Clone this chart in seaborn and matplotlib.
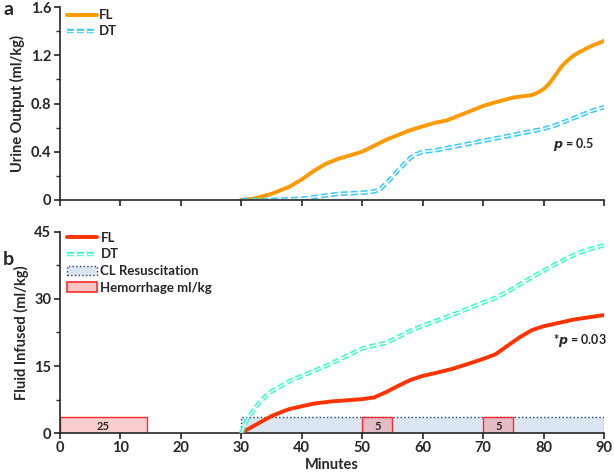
import matplotlib
matplotlib.use("Agg")
import matplotlib.pyplot as plt
import pandas as pd
import seaborn as sns
from matplotlib.lines import Line2D
from matplotlib.patches import Patch

# Data
uo_fl_min = [30, 32, 35, 38, 40, 42, 44, 46, 48, 50, 52, 54, 56, 58, 60, 62, 64, 66, 68, 70, 72, 75, 78, 79, 80, 81, 82, 83, 84, 85, 86, 88, 90]
uo_fl_val = [0.0, 0.01, 0.05, 0.11, 0.17, 0.24, 0.30, 0.34, 0.37, 0.40, 0.45, 0.50, 0.54, 0.58, 0.61, 0.64, 0.66, 0.70, 0.74, 0.78, 0.81, 0.85, 0.87, 0.89, 0.92, 0.97, 1.04, 1.11, 1.16, 1.20, 1.23, 1.28, 1.32]

uo_dt_min = [30, 35, 40, 43, 46, 50, 52, 53, 54, 55, 56, 57, 58, 59, 60, 62, 64, 66, 70, 75, 80, 82, 84, 86, 88, 90]
uo_dt_val = [0.0, 0.0, 0.01, 0.03, 0.05, 0.06, 0.07, 0.09, 0.14, 0.19, 0.25, 0.30, 0.35, 0.38, 0.40, 0.41, 0.43, 0.45, 0.49, 0.54, 0.59, 0.62, 0.66, 0.70, 0.74, 0.77]

fi_fl_min = [30, 31, 33, 35, 37, 38, 40, 42, 45, 48, 50, 52, 54, 56, 58, 60, 62, 65, 68, 70, 72, 74, 76, 78, 80, 82, 85, 88, 90]
fi_fl_val = [0.0, 0.8, 2.3, 3.8, 4.9, 5.4, 6.0, 6.6, 7.1, 7.4, 7.6, 8.0, 9.2, 10.6, 11.9, 12.8, 13.4, 14.4, 15.7, 16.6, 17.6, 19.5, 21.4, 23.0, 23.9, 24.5, 25.4, 26.0, 26.4]

fi_dt_min = [30, 31, 32, 33, 34, 35, 36, 38, 40, 42, 44, 46, 48, 50, 52, 54, 56, 58, 60, 62, 64, 66, 68, 70, 72, 74, 76, 78, 80, 82, 84, 86, 88, 90]
fi_dt_val = [0.0, 3.0, 5.0, 6.8, 8.2, 9.3, 10.1, 11.6, 12.8, 13.9, 15.0, 16.3, 17.6, 18.9, 19.6, 20.2, 21.5, 22.9, 24.0, 25.0, 26.0, 27.0, 28.1, 29.2, 30.2, 31.6, 33.2, 34.8, 36.3, 37.8, 39.2, 40.4, 41.3, 42.0]

hem_start = [0, 50, 70]
hem_width = [14.5, 5, 5]
hem_volume = [25, 5, 5]
cl_start = [30]
cl_width = [60]
box_height = 3.5

sns.set_style("ticks")
plt.rcParams["font.family"] = ["Lato", "DejaVu Sans"]
plt.rcParams["font.weight"] = "bold"
plt.rcParams["lines.scale_dashes"] = False

c_fl_a = "#ff9900"
c_dt_a = "#33ccff"
c_fl_b = "#ff3300"
c_dt_b = "#33ffcc"
dash = (0, (5, 2.2))

fig = plt.figure(figsize=(6.14, 4.76), dpi=100)
ax1 = fig.add_axes([0.097, 0.580, 0.887, 0.405])
ax2 = fig.add_axes([0.097, 0.090, 0.887, 0.423])


def double_line(ax, x, y, color):
    sns.lineplot(x=x, y=y, ax=ax, color=color, lw=3.2, linestyle=dash)
    sns.lineplot(x=x, y=y, ax=ax, color="white", lw=1.0, linestyle=dash)


# Panel a
sns.lineplot(x=uo_fl_min, y=uo_fl_val, ax=ax1, color=c_fl_a, lw=2.8)
double_line(ax1, uo_dt_min, uo_dt_val, c_dt_a)
ax1.set_xlim(0, 90)
ax1.set_ylim(0, 1.6)
ax1.set_xticks(range(0, 91, 10))
ax1.set_xticklabels([])
ax1.set_yticks([0, 0.4, 0.8, 1.2, 1.6])
ax1.set_yticklabels(["0", "0.4", "0.8", "1.2", "1.6"])
ax1.set_yticks([0.2, 0.6, 1.0, 1.4], minor=True)
ax1.set_ylabel("Urine Output (ml/kg)", fontsize=10.5, fontweight="bold")
ax1.text(85, 0.46, "$\\boldsymbol{p}$ = 0.5", ha="center", va="center", fontsize=9, fontweight="bold")
h_fl = Line2D([], [], color=c_fl_a, lw=2.8)
h_dt = (Line2D([], [], color=c_dt_a, lw=3.2, linestyle=dash), Line2D([], [], color="white", lw=1.0, linestyle=dash))
ax1.legend([h_fl, h_dt], ["FL", "DT"], loc="upper left", bbox_to_anchor=(0.0, 1.03), frameon=False,
           fontsize=9.5, handlelength=2.2, handletextpad=0.2, labelspacing=0.3, borderaxespad=0.2)

# Panel b
ax2.bar(cl_start, [box_height] * len(cl_start), width=cl_width, align="edge",
        color="#dce6f2", edgecolor="#1f3d7a", linestyle=":", lw=1.0, zorder=1)
ax2.bar(hem_start, [box_height] * len(hem_start), width=hem_width, align="edge",
        color=(0.95, 0.45, 0.45, 0.35), edgecolor="#ff2a2a", lw=1.0, zorder=2)
for s, w, v in zip(hem_start, hem_width, hem_volume):
    ax2.text(s + w / 2, 1.5, str(v), ha="center", va="center", fontsize=8, fontweight="bold", zorder=3)

sns.lineplot(x=fi_fl_min, y=fi_fl_val, ax=ax2, color=c_fl_b, lw=2.8, zorder=4)
sns.lineplot(x=fi_dt_min, y=fi_dt_val, ax=ax2, color=c_dt_b, lw=3.2, linestyle=dash, zorder=4)
sns.lineplot(x=fi_dt_min, y=fi_dt_val, ax=ax2, color="white", lw=1.0, linestyle=dash, zorder=4)
ax2.set_xlim(0, 90)
ax2.set_ylim(0, 45)
ax2.set_xticks(range(0, 91, 10))
ax2.set_yticks([0, 15, 30, 45])
ax2.set_yticks([7.5, 22.5, 37.5], minor=True)
ax2.set_xlabel("Minutes", fontsize=10.5, fontweight="bold", labelpad=2)
ax2.set_ylabel("Fluid Infused (ml/kg)", fontsize=10.5, fontweight="bold")
ax2.text(86, 20.6, "*$\\boldsymbol{p}$ = 0.03", ha="center", va="center", fontsize=9, fontweight="bold")
h_fl2 = Line2D([], [], color=c_fl_b, lw=2.8)
h_dt2 = (Line2D([], [], color=c_dt_b, lw=3.2, linestyle=dash), Line2D([], [], color="white", lw=1.0, linestyle=dash))
h_cl = Patch(facecolor="#dce6f2", edgecolor="#1f3d7a", linestyle=":")
h_hem = Patch(facecolor="#f9c4c4", edgecolor="#ff2a2a", lw=1.2)
ax2.legend([h_fl2, h_dt2, h_cl, h_hem], ["FL", "DT", "CL Resuscitation", "Hemorrhage ml/kg"],
           loc="upper left", bbox_to_anchor=(0.0, 1.04), frameon=False, fontsize=9.5,
           handlelength=2.2, handletextpad=0.3, labelspacing=0.35, borderaxespad=0.2)

for ax in (ax1, ax2):
    sns.despine(ax=ax)
    ax.spines["left"].set_linewidth(1.2)
    ax.spines["bottom"].set_linewidth(1.2)
    ax.tick_params(which="major", length=4, width=1.2, labelsize=10.5, pad=2)
    ax.tick_params(which="minor", length=3, width=1.0)
    for lab in ax.get_xticklabels() + ax.get_yticklabels():
        lab.set_fontweight("bold")

fig.text(0.005, 0.979, "a", fontsize=14, fontweight="bold", va="center", ha="left")
fig.text(0.005, 0.455, "b", fontsize=14, fontweight="bold", va="center", ha="left")

fig.savefig("out.png", dpi=100)
